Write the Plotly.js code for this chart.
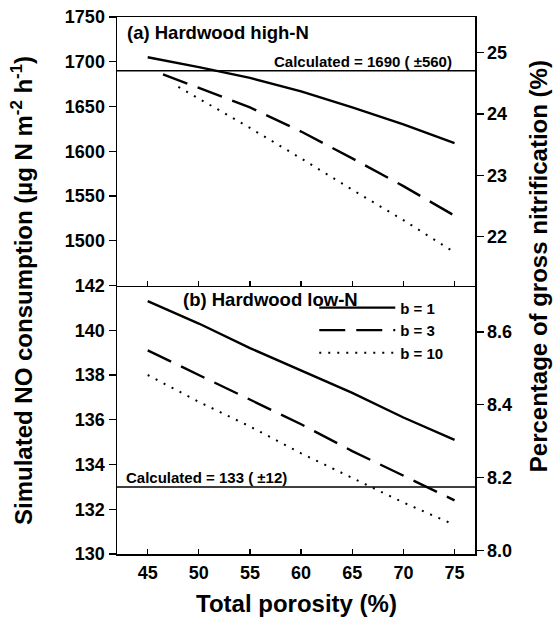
<!DOCTYPE html>
<html>
<head>
<meta charset="utf-8">
<script src="https://cdn.plot.ly/plotly-3.0.1.min.js"></script>
<style>html,body{margin:0;padding:0;background:#fff;}#chart{width:554px;height:621px;}</style>
</head>
<body>
<div id="chart"></div>
<script>
// ---- data ----
var porosity = [45, 50, 55, 60, 65, 70, 75];
var highN_b1 = [1705, 1694, 1682, 1667, 1649, 1630, 1609];
var highN_b3_x = [46.5, 50, 55, 60, 65, 70, 75];
var highN_b3 = [1686, 1671, 1649, 1622, 1592, 1561, 1528];
var highN_b10_x = [48, 50, 55, 60, 65, 70, 75];
var highN_b10 = [1672, 1659, 1626, 1592, 1557, 1523, 1487];
var lowN_b1 = [141.3, 140.3, 139.2, 138.2, 137.2, 136.1, 135.1];
var lowN_b3 = [139.1, 138.0, 136.9, 135.8, 134.6, 133.5, 132.4];
var lowN_b10 = [138.0, 136.8, 135.7, 134.5, 133.4, 132.3, 131.3];
var seriesNames = ['b = 1', 'b = 3', 'b = 10'];
var calcHigh = 1690, calcHighErr = 560;
var calcLow = 133, calcLowErr = 12;
var grossHigh = 6840;   // gross nitrification, high-N (for % axis)
var grossLow = 1627;    // gross nitrification, low-N (for % axis)
var xTicks = [45, 50, 55, 60, 65, 70, 75];
var highTicks = [1500, 1550, 1600, 1650, 1700, 1750];
var lowTicks = [130, 132, 134, 136, 138, 140, 142];
var highPctTicks = [22, 23, 24, 25];
var lowPctTicks = [8.0, 8.2, 8.4, 8.6];
var highRange = [1450, 1750];
var lowRange = [130, 142];
var xRange = [42, 77];

var FONT = 'Liberation Sans, Arial, Helvetica, sans-serif';
var styles = [
  {color: '#000', width: 2.4, dash: 'solid'},
  {color: '#000', width: 2.4, dash: '26px,11px'},
  {color: '#000', width: 2, dash: '2px,7px'}
];

var traces = [
  {x: porosity, y: highN_b1, xaxis: 'x2', yaxis: 'y2', mode: 'lines', line: styles[0], showlegend: false, name: seriesNames[0]},
  {x: highN_b3_x, y: highN_b3, xaxis: 'x2', yaxis: 'y2', mode: 'lines', line: styles[1], showlegend: false, name: seriesNames[1]},
  {x: highN_b10_x, y: highN_b10, xaxis: 'x2', yaxis: 'y2', mode: 'lines', line: styles[2], showlegend: false, name: seriesNames[2]},
  {x: porosity, y: lowN_b1, xaxis: 'x', yaxis: 'y', mode: 'lines', line: styles[0], name: seriesNames[0]},
  {x: porosity, y: lowN_b3, xaxis: 'x', yaxis: 'y', mode: 'lines', line: styles[1], name: seriesNames[1]},
  {x: porosity, y: lowN_b10, xaxis: 'x', yaxis: 'y', mode: 'lines', line: styles[2], name: seriesNames[2]},
  // invisible carriers for the right-hand percentage axes
  {x: [], y: [], xaxis: 'x2', yaxis: 'y3', mode: 'lines', showlegend: false, hoverinfo: 'skip'},
  {x: [], y: [], xaxis: 'x', yaxis: 'y4', mode: 'lines', showlegend: false, hoverinfo: 'skip'}
];

var tickFont = {family: FONT, size: 18, color: '#000', weight: 'bold'};
var axLine = {showline: true, linecolor: '#000', linewidth: 1.5, zeroline: false, showgrid: false};

function merge(a, b) { var o = {}; for (var k in a) o[k] = a[k]; for (var k2 in b) o[k2] = b[k2]; return o; }

var layout = {
  width: 554, height: 621,
  margin: {l: 117, r: 79, t: 17, b: 67},
  paper_bgcolor: '#fff', plot_bgcolor: '#fff',
  font: {family: FONT, color: '#000'},
  xaxis: merge(axLine, {domain: [0, 1], range: xRange, anchor: 'y', mirror: false,
    tickmode: 'array', tickvals: xTicks, ticks: 'inside', ticklen: 5, tickwidth: 1.3, tickcolor: '#000',
    tickfont: tickFont, ticklabelstandoff: 2}),
  xaxis2: merge(axLine, {domain: [0, 1], range: xRange, anchor: 'y2', matches: 'x', mirror: true,
    tickmode: 'array', tickvals: xTicks, ticks: 'inside', ticklen: 5, tickwidth: 1.3, tickcolor: '#000',
    showticklabels: false}),
  yaxis: merge(axLine, {domain: [0, 0.5], range: lowRange, anchor: 'x',
    tickmode: 'array', tickvals: lowTicks, ticks: 'outside', ticklen: 7, tickwidth: 1.3, tickcolor: '#000',
    tickfont: tickFont}),
  yaxis2: merge(axLine, {domain: [0.5, 1], range: highRange, anchor: 'x2',
    tickmode: 'array', tickvals: highTicks, ticks: 'outside', ticklen: 7, tickwidth: 1.3, tickcolor: '#000',
    tickfont: tickFont}),
  yaxis3: merge(axLine, {overlaying: 'y2', side: 'right', anchor: 'x2',
    range: [highRange[0] / grossHigh * 100, highRange[1] / grossHigh * 100],
    tickmode: 'array', tickvals: highPctTicks, ticks: 'outside', ticklen: 7, tickwidth: 1.3, tickcolor: '#000',
    tickfont: tickFont}),
  yaxis4: merge(axLine, {overlaying: 'y', side: 'right', anchor: 'x',
    range: [lowRange[0] / grossLow * 100, lowRange[1] / grossLow * 100],
    tickmode: 'array', tickvals: lowPctTicks, ticktext: lowPctTicks.map(function (v) { return v.toFixed(1); }),
    ticks: 'outside', ticklen: 7, tickwidth: 1.3, tickcolor: '#000', tickfont: tickFont}),
  showlegend: true,
  legend: {x: 0.551, y: 0.489, xanchor: 'left', yanchor: 'top', bgcolor: 'rgba(0,0,0,0)',
    itemwidth: 76, font: {family: FONT, size: 15, color: '#000', weight: 'bold'}, tracegroupgap: 0},
  shapes: [
    {type: 'line', xref: 'paper', x0: 0, x1: 1, yref: 'y2', y0: calcHigh, y1: calcHigh, line: {color: '#000', width: 1.5}},
    {type: 'line', xref: 'paper', x0: 0, x1: 1, yref: 'y', y0: calcLow, y1: calcLow, line: {color: '#000', width: 1.5}}
  ],
  annotations: [
    {xref: 'x2', yref: 'y2', x: 42.75, y: 1733, xanchor: 'left', yanchor: 'middle', showarrow: false,
      text: '(a) Hardwood high-N', font: {family: FONT, size: 18.5, weight: 'bold'}},
    {xref: 'x', yref: 'y', x: 48.3, y: 141.37, xanchor: 'left', yanchor: 'middle', showarrow: false,
      text: '(b) Hardwood low-N', font: {family: FONT, size: 18.5, weight: 'bold'}},
    {xref: 'x2', yref: 'y2', x: 74.8, y: calcHigh, xanchor: 'right', yanchor: 'bottom', showarrow: false, borderpad: 0,
      text: 'Calculated = ' + calcHigh + ' ( \u00b1' + calcHighErr + ')', font: {family: FONT, size: 15, weight: 'bold'}},
    {xref: 'x', yref: 'y', x: 42.75, y: calcLow, xanchor: 'left', yanchor: 'bottom', showarrow: false, borderpad: 0,
      text: 'Calculated = ' + calcLow + ' ( \u00b1' + calcLowErr + ')', font: {family: FONT, size: 15, weight: 'bold'}},
    {xref: 'paper', yref: 'paper', x: 0.5, y: -0.093, xanchor: 'center', yanchor: 'middle', showarrow: false,
      text: 'Total porosity (%)', font: {family: FONT, size: 24, weight: 'bold'}},
    {xref: 'paper', yref: 'paper', x: -0.265, y: 0.49, xanchor: 'center', yanchor: 'middle', showarrow: false, textangle: -90,
      text: 'Simulated NO consumption (\u00b5g N m<sup>-2</sup> h<sup>-1</sup>)', font: {family: FONT, size: 24, weight: 'bold'}},
    {xref: 'paper', yref: 'paper', x: 1.176, y: 0.536, xanchor: 'center', yanchor: 'middle', showarrow: false, textangle: -90,
      text: 'Percentage of gross nitrification (%)', font: {family: FONT, size: 24, weight: 'bold'}}
  ]
};

Plotly.newPlot('chart', traces, layout, {staticPlot: true, displayModeBar: false});
</script>
</body>
</html>
